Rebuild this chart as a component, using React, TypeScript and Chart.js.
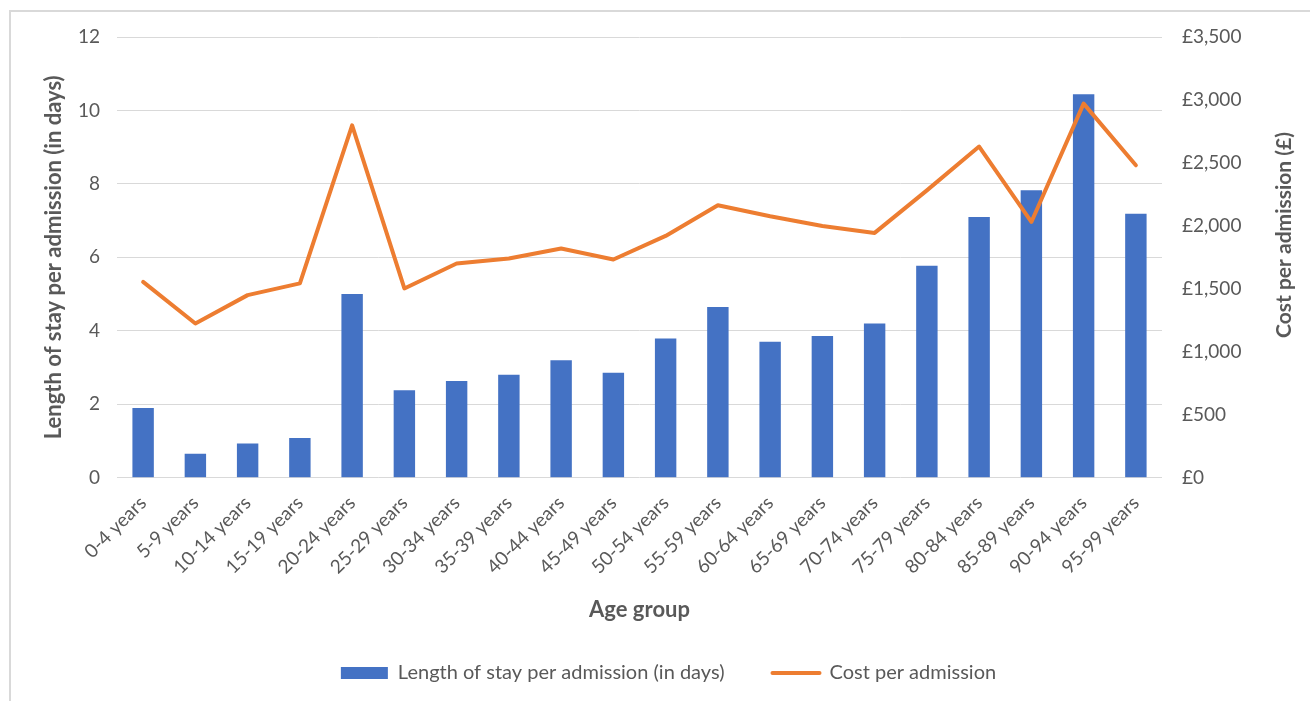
import React, { useEffect, useRef } from "react";
import { Chart, registerables } from "chart.js";

Chart.register(...registerables);

const categories = [
  "0-4 years", "5-9 years", "10-14 years", "15-19 years", "20-24 years",
  "25-29 years", "30-34 years", "35-39 years", "40-44 years", "45-49 years",
  "50-54 years", "55-59 years", "60-64 years", "65-69 years", "70-74 years",
  "75-79 years", "80-84 years", "85-89 years", "90-94 years", "95-99 years",
];

const lengthOfStay = [
  1.9, 0.65, 0.93, 1.08, 5.0, 2.38, 2.63, 2.8, 3.2, 2.86,
  3.79, 4.65, 3.7, 3.86, 4.2, 5.77, 7.1, 7.83, 10.44, 7.19,
];

const costPerAdmission = [
  1555, 1225, 1450, 1543, 2798, 1503, 1701, 1741, 1820, 1733,
  1920, 2164, 2076, 1999, 1944, 2282, 2630, 2031, 2971, 2481,
];

const leftAxisMax = 12;
const leftAxisStep = 2;
const rightAxisMax = 3500;
const rightAxisStep = 500;

const barLabel = "Length of stay per admission (in days)";
const lineLabel = "Cost per admission";
const xTitle = "Age group";
const leftTitle = "Length of stay per admission (in days)";
const rightTitle = "Cost per admission (£)";

const FONT = "Lato, 'Open Sans', sans-serif";
const TEXT = "#595959";
const BLUE = "#4472C4";
const ORANGE = "#ED7D31";
const GRID = "#d9d9d9";

export default function App() {
  const ref = useRef<HTMLCanvasElement>(null);

  useEffect(() => {
    if (!ref.current) return;
    const rightTitlePlugin = {
      id: "rightTitle",
      afterDraw(chart: any) {
        const ctx = chart.ctx;
        ctx.save();
        ctx.translate(1284, 235);
        ctx.rotate(-Math.PI / 2);
        ctx.font = `bold 21px ${FONT}`;
        ctx.fillStyle = TEXT;
        ctx.textAlign = "center";
        ctx.textBaseline = "middle";
        ctx.fillText(rightTitle, 0, 0);
        ctx.restore();
      },
    };

    const chart = new Chart(ref.current, {
      type: "bar",
      data: {
        labels: categories,
        datasets: [
          {
            type: "bar",
            label: barLabel,
            data: lengthOfStay,
            backgroundColor: BLUE,
            borderWidth: 0,
            yAxisID: "y",
            order: 2,
            categoryPercentage: 0.41,
            barPercentage: 1,
          } as any,
          {
            type: "line",
            label: lineLabel,
            data: costPerAdmission,
            borderColor: ORANGE,
            backgroundColor: ORANGE,
            borderWidth: 4,
            pointRadius: 0,
            tension: 0,
            yAxisID: "y1",
            order: 1,
            borderJoinStyle: "round",
            borderCapStyle: "round",
          } as any,
        ],
      },
      options: {
        responsive: false,
        animation: false,
        layout: { padding: { left: 10, right: -17, top: 37, bottom: 8 } },
        plugins: {
          tooltip: { enabled: false },
          legend: {
            position: "bottom",
            labels: {
              usePointStyle: true,
              pointStyleWidth: 47,
              boxHeight: 12,
              padding: 48,
              color: TEXT,
              font: { family: FONT, size: 20 },
              generateLabels(ch: any) {
                const items = (Chart as any).defaults.plugins.legend.labels.generateLabels(ch);
                items.forEach((it: any) => {
                  if (it.datasetIndex === 0) {
                    it.pointStyle = "rect";
                    it.lineWidth = 0;
                    it.fillStyle = BLUE;
                  } else {
                    it.pointStyle = "line";
                    it.lineWidth = 4;
                    it.strokeStyle = ORANGE;
                    it.lineCap = "round";
                  }
                });
                return items;
              },
              sort: (a: any, b: any) => a.datasetIndex - b.datasetIndex,
            },
          },
        },
        scales: {
          x: {
            grid: { display: false, drawTicks: false },
            border: { display: false },
            ticks: {
              color: TEXT,
              font: { family: FONT, size: 19 },
              minRotation: 45,
              maxRotation: 45,
              autoSkip: false,
              padding: 14,
            },
            title: {
              display: true,
              text: xTitle,
              color: TEXT,
              font: { family: FONT, size: 22, weight: "bold" },
              padding: { top: 0, bottom: -8 },
            },
            afterFit(s: any) {
              s.height = 137.3;
            },
          },
          y: {
            position: "left",
            min: 0,
            max: leftAxisMax,
            ticks: {
              stepSize: leftAxisStep,
              color: TEXT,
              font: { family: FONT, size: 19 },
              padding: 17,
            },
            grid: { color: GRID, lineWidth: 1, drawTicks: false },
            border: { display: false },
            title: {
              display: true,
              text: leftTitle,
              color: TEXT,
              font: { family: FONT, size: 22, weight: "bold" },
              padding: { top: 31, bottom: 0 },
            },
            afterFit(s: any) {
              s.width = 107;
            },
          },
          y1: {
            position: "right",
            min: 0,
            max: rightAxisMax,
            ticks: {
              stepSize: rightAxisStep,
              color: TEXT,
              font: { family: FONT, size: 19 },
              padding: 20,
              callback: (v: any) => "£" + Number(v).toLocaleString("en-GB"),
            },
            grid: { display: false, drawTicks: false },
            border: { display: false },
            afterFit(s: any) {
              s.width = 165;
            },
          },
        },
      } as any,
      plugins: [rightTitlePlugin],
    });
    return () => chart.destroy();
  }, []);

  return (
    <div
      style={{
        position: "fixed",
        left: 0,
        top: 0,
        width: 1310,
        height: 701,
        overflow: "hidden",
        background: "#ffffff",
      }}
    >
      <div
        style={{
          position: "absolute",
          left: 9,
          top: 10,
          width: 1400,
          height: 800,
          border: "2px solid #d9d9d9",
          boxSizing: "border-box",
        }}
      />
      <canvas
        ref={ref}
        width={1310}
        height={701}
        style={{ position: "absolute", left: 0, top: 0 }}
      />
    </div>
  );
}
